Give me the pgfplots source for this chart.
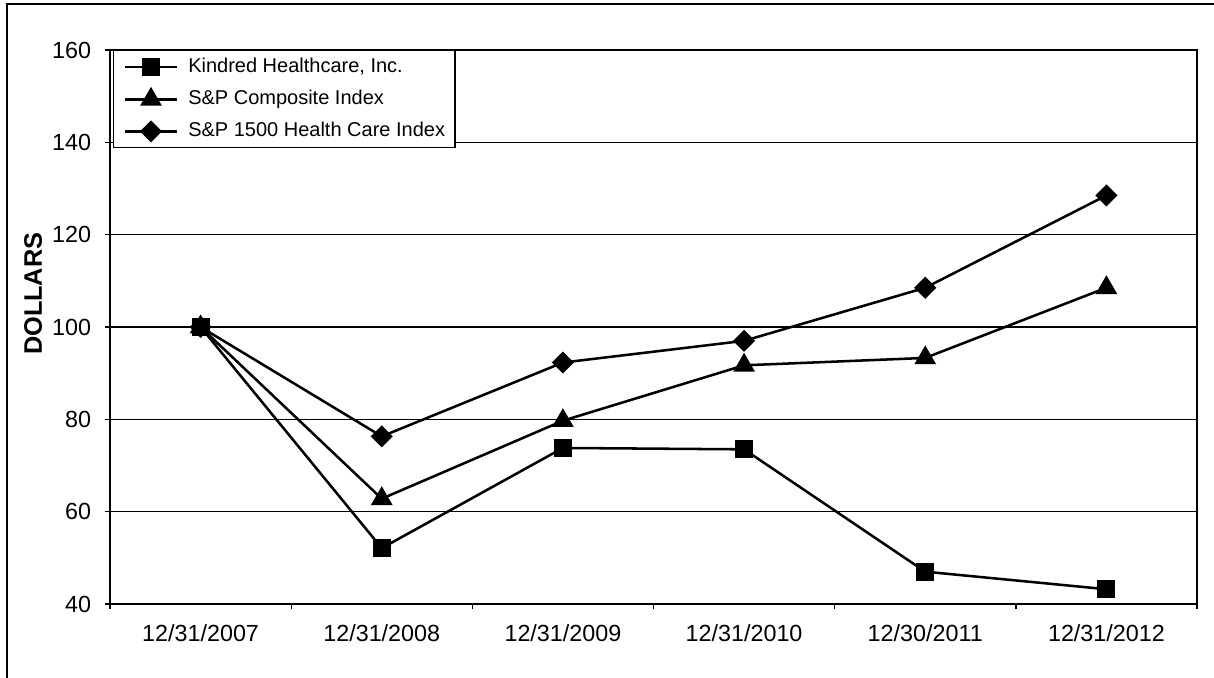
\documentclass[border=0pt]{standalone}
\usepackage{pgfplots}
\pgfplotsset{compat=1.18}
\usepackage{fontspec}
\setmainfont{Liberation Sans}
\begin{document}
\begin{tikzpicture}
\path[use as bounding box] (0,0) rectangle (910.5pt,508.5pt);
\draw[line width=2pt] (5.25pt,0) -- (5.25pt,505.5pt) -- (910.5pt,505.5pt);
\begin{axis}[
    at={(82.5pt,55.5pt)}, anchor=south west,
    scale only axis,
    width=815.25pt, height=415.5pt,
    xmin=-0.5, xmax=5.5,
    ymin=40, ymax=160,
    xtick={0,...,5},
    xticklabels={12/31/2007,12/31/2008,12/31/2009,12/31/2010,12/30/2011,12/31/2012},
    minor xtick={-0.5,0.5,...,5.5},
    ytick={40,60,...,160},
    ymajorgrids,
    grid style={black, line width=1.1pt},
    axis line style={line width=1.3pt},
    major x tick style={draw=none},
    minor x tick style={black, line width=1pt},
    major y tick style={black, line width=1pt},
    tick align=outside, tick pos=left,
    major tick length=4pt, minor tick length=4pt,
    /pgf/number format/assume math mode=true,
    ticklabel style={font=\fontsize{17.5}{20}\selectfont},
    xticklabel style={yshift=-8pt},
    yticklabel style={inner xsep=0pt, xshift=-10pt},
    ylabel={\textbf{DOLLARS}},
    ylabel style={at={(axis description cs:-0.0708,0.56)}, anchor=center, font=\fontsize{19}{21}\selectfont},
    legend cell align=left,
    legend image code/.code={\draw[mark repeat=2,mark phase=2,#1] plot coordinates {(0pt,0pt) (19.5pt,0pt) (39pt,0pt)};},
    legend style={at={(0,1)}, anchor=north west, xshift=2.25pt,
        draw=black, line width=1.1pt, fill=white,
        inner xsep=7.5pt, inner ysep=5pt,
        row sep=9.5pt, column sep=7.5pt,
        nodes={inner sep=0pt, text height=11pt, text depth=3.5pt},
        font=\fontsize{15}{17}\selectfont},
]
\addplot[black, line width=1.9pt, mark=square*, mark size=5.8pt, mark options={solid}]
    coordinates {(0,100) (1,52.1) (2,73.8) (3,73.5) (4,47.0) (5,43.2)};
\addlegendentry{Kindred Healthcare, Inc.}
\addplot[black, line width=1.9pt, mark=triangle*, mark size=7.5pt, mark options={solid}]
    coordinates {(0,100) (1,62.8) (2,79.7) (3,91.7) (4,93.3) (5,108.5)};
\addlegendentry{S\&P Composite Index}
\addplot[black, line width=1.9pt, mark=square*, mark size=4.9pt, mark options={solid, rotate=45}]
    coordinates {(0,100) (1,76.3) (2,92.3) (3,97.0) (4,108.5) (5,128.5)};
\addlegendentry{S\&P 1500 Health Care Index}
\end{axis}
\end{tikzpicture}
\end{document}
